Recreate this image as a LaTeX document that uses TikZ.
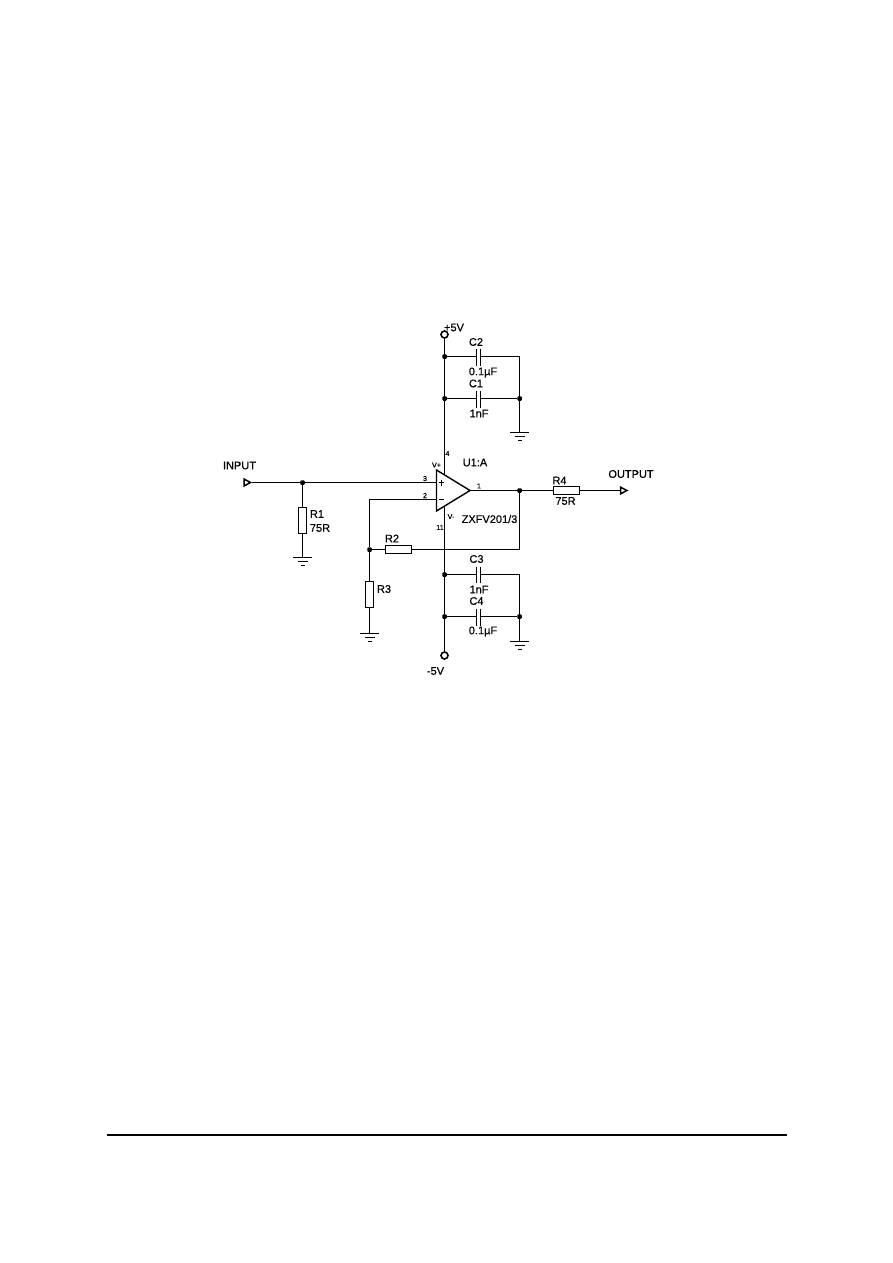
\documentclass[tikz,border=0pt]{standalone}
\usepackage{fontspec}
\setmainfont{Liberation Sans}[FakeBold=0.35]
\begin{document}
\begin{tikzpicture}[x=1pt,y=-1pt,
  wire/.style={line width=1.1pt,black},
  res/.style={draw=black,fill=white,line width=1pt,rectangle,inner sep=0pt},
  hres/.style={res,minimum width=26pt,minimum height=8pt},
  vres/.style={res,minimum width=8pt,minimum height=26pt},
  dotj/.style={rectangle,rounded corners=1pt,fill=black,inner sep=0pt,minimum size=4.5pt},
  supply/.style={circle,draw=black,fill=white,line width=1.6pt,inner sep=0pt,minimum size=7pt},
  lab/.style={inner sep=0pt,font=\fontsize{11}{12}\selectfont,text=black},
  pin/.style={inner sep=0pt,font=\fontsize{7.2}{8}\selectfont,text=black},
  plate/.style={line width=1.1pt,black},
  port/.style={line width=1.5pt,black,fill=white}]
\useasboundingbox (0,0) rectangle (892,1263);
\fill[white] (0,0) rectangle (892,1263);
% coordinates
\node[supply] (vp) at (444.5,334.5) {};
\node[supply] (vn) at (444.5,655.5) {};
\node[dotj] (j1) at (444.5,356.5) {};
\node[dotj] (j2) at (444.5,398.5) {};
\node[dotj] (j3) at (519.5,398.5) {};
\coordinate (c2r) at (519.5,356.5);
\coordinate (g1) at (519.5,432.5);
\node[dotj] (j4) at (444.5,574.5) {};
\node[dotj] (j5) at (444.5,616.5) {};
\node[dotj] (j6) at (519.5,616.5) {};
\coordinate (c3r) at (519.5,574.5);
\coordinate (g2) at (519.5,641.5);
\node[dotj] (j7) at (302.5,482.5) {};
\node[dotj] (j8) at (369.5,549.5) {};
\node[dotj] (j9) at (519.5,490.5) {};
\coordinate (fbr) at (519.5,549.5);
\coordinate (vtop) at (444.5,474);
\coordinate (vbot) at (444.5,507);
\coordinate (a3) at (436,482.5);
\coordinate (a2) at (436,499.5);
\coordinate (b2) at (369.5,499.5);
\coordinate (apex) at (470,490.5);
\coordinate (g3) at (302.5,557.5);
\coordinate (g4) at (369.5,633.5);
\coordinate (inp) at (252,482.5);
\coordinate (outp) at (620,490.5);
\node[vres] (R1) at (302.5,520.5) {};
\node[vres] (R3) at (369.5,594.5) {};
\node[hres] (R2) at (398.5,549.5) {};
\node[hres] (R4) at (566.5,490.5) {};
% wires
\begin{scope}[wire]
\draw (vp) -- (vtop);
\draw (vbot) -- (vn);
\draw (j1) -- (476.5,356.5) (480.5,356.5) -- (c2r) -- (g1);
\draw (j2) -- (476.5,398.5) (480.5,398.5) -- (j3);
\draw (j4) -- (476.5,574.5) (480.5,574.5) -- (c3r) -- (g2);
\draw (j5) -- (476.5,616.5) (480.5,616.5) -- (j6);
\draw (inp) -- (a3);
\draw (j7) -- (R1) -- (g3);
\draw (a2) -- (b2) -- (j8) -- (R3) -- (g4);
\draw (j8) -- (R2) -- (fbr) -- (j9);
\draw (apex) -- (R4) -- (outp);
\end{scope}
% capacitor plates
\foreach \yy/\ya/\yb in {0/348.5/366,1/390.5/408,2/566.5/582.5,3/608.5/626}{
  \draw[plate] (476.5,\ya) -- (476.5,\yb) (480.5,\ya) -- (480.5,\yb);
}
% grounds
\foreach \g/\gx/\gy in {a/519.5/432.5,b/519.5/641.5,c/302.5/557.5,d/369.5/633.5}{
  \draw[wire] (\gx-9.5,\gy) -- (\gx+9.5,\gy);
  \draw[wire] (\gx-5,\gy+4) -- (\gx+5,\gy+4);
  \draw[wire] (\gx-2,\gy+8) -- (\gx+2,\gy+8);
}
% op amp
\draw[line width=1.4pt,black,fill=white,line join=miter] (436.5,470) -- (apex) -- (436.5,511) -- cycle;
\draw[wire] (438.5,482.5) -- (444,482.5) (441.5,479.5) -- (441.5,485.5) (438.5,499.5) -- (444,499.5);
% ports
\draw[port] (244,479) -- (250.5,482.5) -- (244,486) -- cycle;
\draw[port] (620.5,487.2) -- (627,490.5) -- (620.5,493.8) -- cycle;
% labels
\node[lab,anchor=center] (t1) at (454,327.5) {+5V};
\node[lab] (t2) at (476,342) {C2};
\node[lab] (t3) at (483,372.5) {0.1µF};
\node[lab] (t4) at (476,383.5) {C1};
\node[lab] (t5) at (479,413.5) {1nF};
\node[pin] (t6) at (447.5,453.5) {4};
\node[pin] (t7) at (436.5,465) {V+};
\node[lab] (t8) at (475,462.5) {U1:A};
\node[lab] (t9) at (239.5,465.5) {INPUT};
\node[pin] (t10) at (425,478.5) {3};
\node[pin] (t11) at (425,495.5) {2};
\node[pin] (t12) at (479,486) {1};
\node[pin] (t13) at (451,516.5) {V-};
\node[pin] (t14) at (440,527.5) {11};
\node[lab] (t15) at (489.5,519) {ZXFV201/3};
\node[lab] (t16) at (317,514) {R1};
\node[lab] (t17) at (320,528) {75R};
\node[lab] (t18) at (392,538.5) {R2};
\node[lab] (t19) at (384,589) {R3};
\node[lab] (t20) at (559.5,480.5) {R4};
\node[lab] (t21) at (565.5,501) {75R};
\node[lab] (t22) at (631,474) {OUTPUT};
\node[lab] (t23) at (476.5,559) {C3};
\node[lab] (t24) at (479,589.5) {1nF};
\node[lab] (t25) at (476.5,601) {C4};
\node[lab] (t26) at (483,631.5) {0.1µF};
\node[lab] (t27) at (435.5,671) {-5V};
\draw[line width=1.6pt,black] (107,1135) -- (787,1135);
\end{tikzpicture}
\end{document}
